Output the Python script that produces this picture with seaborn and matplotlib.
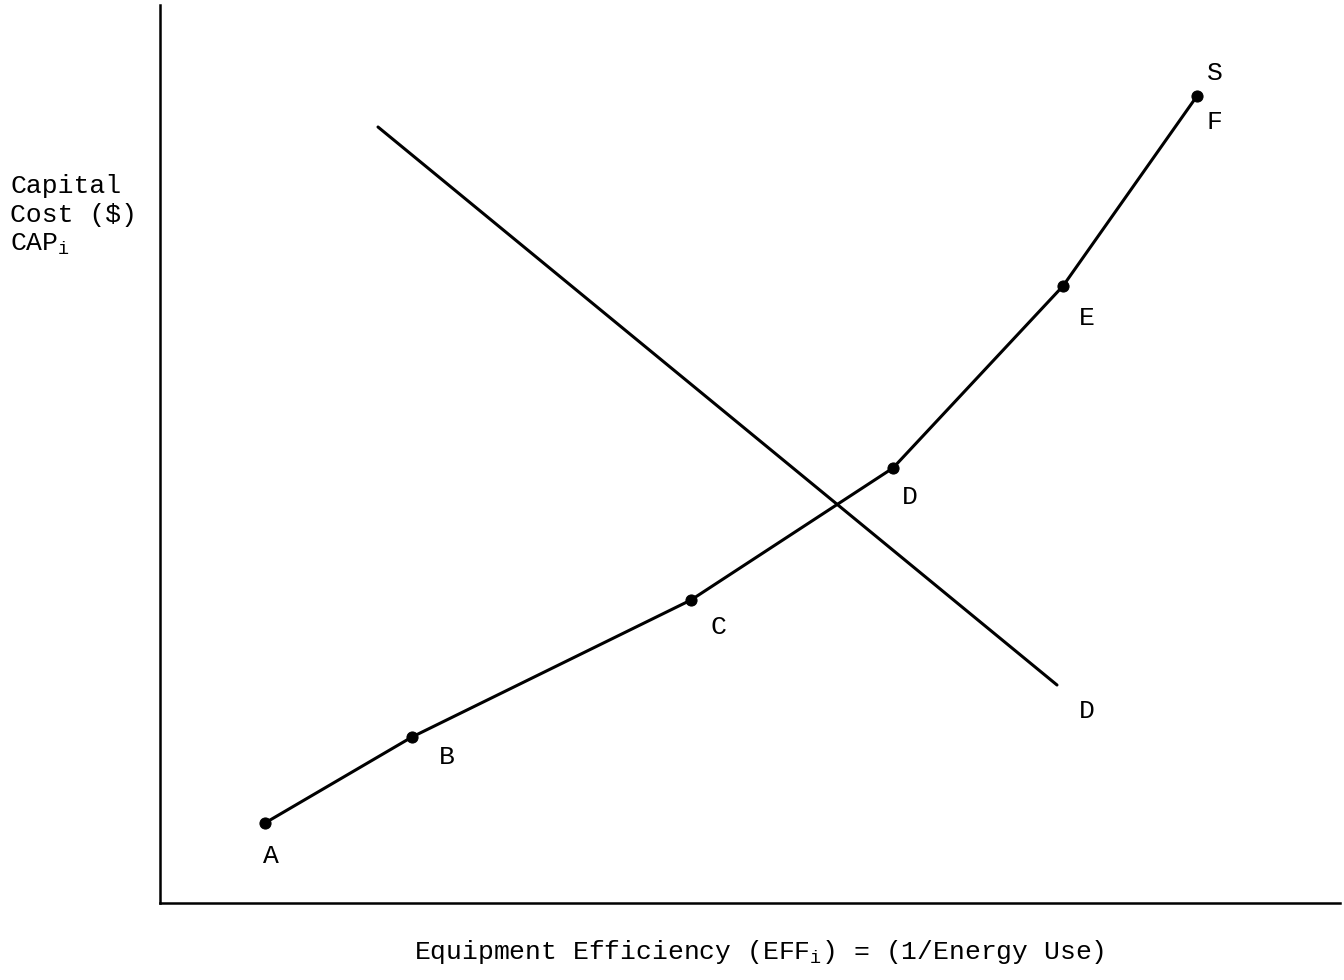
import pandas as pd
import matplotlib.pyplot as plt
import seaborn as sns

sns.set_theme(style="white")
plt.rcParams['font.family'] = ['Liberation Mono', 'DejaVu Sans Mono']
plt.rcParams['mathtext.fontset'] = 'custom'
plt.rcParams['mathtext.rm'] = 'Liberation Mono'
plt.rcParams['text.color'] = 'black'

# supply curve points (arbitrary units)
supply_labels = ['A', 'B', 'C', 'D', 'E', 'F']
supply_x = [105, 252, 531, 733, 903, 1037]
supply_y = [80, 166, 303, 435, 617, 807]

# demand line end points
demand_x = [218, 897]
demand_y = [776, 218]

supply = pd.DataFrame({'eff': supply_x, 'cap': supply_y, 'label': supply_labels})
demand = pd.DataFrame({'eff': demand_x, 'cap': demand_y})

fig = plt.figure(figsize=(13.44, 9.8), dpi=100)
ax = fig.add_axes([160 / 1344, 77 / 980, 1180 / 1344, 898 / 980])

sns.lineplot(data=supply, x='eff', y='cap', color='black', linewidth=2.2,
             marker='o', markersize=8, markeredgecolor='black', ax=ax)
sns.lineplot(data=demand, x='eff', y='cap', color='black', linewidth=2.2, ax=ax)

# point labels
offsets = {'A': (6, -33), 'B': (35, -20), 'C': (27, -27), 'D': (17, -29),
           'E': (24, -32), 'F': (17, -26)}
for _, r in supply.iterrows():
    dx, dy = offsets[r['label']]
    ax.text(r['eff'] + dx, r['cap'] + dy, r['label'], fontsize=19,
            ha='center', va='center')
ax.text(supply_x[-1] + 18, supply_y[-1] + 23, 'S', fontsize=19,
        ha='center', va='center')
ax.text(demand_x[-1] + 30, demand_y[-1] - 26, 'D', fontsize=19,
        ha='center', va='center')

ax.set_xlim(0, 1180)
ax.set_ylim(0, 898)
ax.set_xticks([])
ax.set_yticks([])
ax.set_xlabel('')
ax.set_ylabel('')
for side in ['top', 'right']:
    ax.spines[side].set_visible(False)
for side in ['left', 'bottom']:
    ax.spines[side].set_color('black')
    ax.spines[side].set_linewidth(1.8)

fig.text(10 / 1344, 1 - 174 / 980, 'Capital\nCost ($)\nCAP$_\\mathrm{i}$',
         fontsize=19, ha='left', va='top', linespacing=1.26)
fig.text(759 / 1344, 1 - 952 / 980,
         'Equipment Efficiency (EFF$_\\mathrm{i}$) = (1/Energy Use)',
         fontsize=19, ha='center', va='center')

fig.savefig('out.png', dpi=100)
